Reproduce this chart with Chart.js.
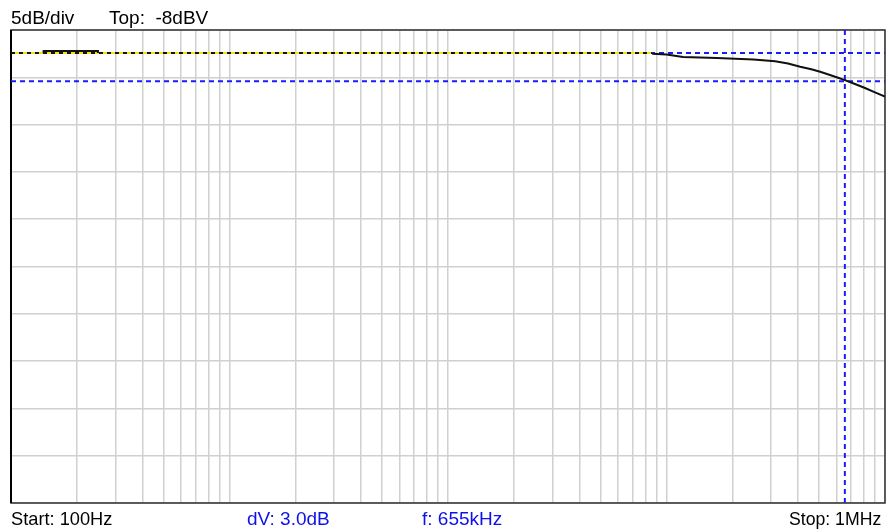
<!DOCTYPE html>
<html><head><meta charset="utf-8">
<script src="https://cdn.jsdelivr.net/npm/chart.js@4"></script>
<style>
html,body{margin:0;padding:0;background:#fff;}
#wrap{position:relative;width:888px;height:532px;overflow:hidden;}
#c{position:absolute;left:0;top:0;width:888px;height:532px;}
.t{position:absolute;font-family:"Liberation Sans",Arial,sans-serif;font-size:19px;line-height:19px;white-space:pre;color:#000;}
.b{color:#1010e8;}
</style></head><body>
<div id="wrap"><canvas id="c" width="888" height="532"></canvas>
<div class="t" style="left:11px;top:8px">5dB/div</div>
<div class="t" style="left:109px;top:8px">Top:  -8dBV</div>
<div class="t" style="left:11px;top:509px;transform:scaleX(0.96);transform-origin:left top">Start: 100Hz</div>
<div class="t b" style="left:247px;top:509px">dV: 3.0dB</div>
<div class="t b" style="left:422px;top:509px">f: 655kHz</div>
<div class="t" style="right:7px;top:509px;transform:scaleX(0.93);transform-origin:right top">Stop: 1MHz</div>
</div>
<script>
// ---- data ----
const decades = [100, 1000, 10000, 100000];
const stopFreq = 1000000;
const startFreq = 100;
const topLevel = -8;      // dBV
const dbPerDiv = 5;
const divisions = 10;

// reference (stored) trace, flat
const refFreq = [100, 86000];
const refLevel = [-10.43, -10.43];

// short measured segment at low frequency
const lowFreq = [141, 141, 250, 250];
const lowLevel = [-10.43, -10.22, -10.22, -10.43];

// measured roll-off trace
const traceFreq = [86000, 100000, 119000, 170000, 250000, 314000, 360000, 409000, 460000, 505000, 560000, 610000, 655000, 700000, 810000, 900000, 1000000];
const traceLevel = [-10.5, -10.6, -10.85, -10.97, -11.12, -11.3, -11.55, -11.88, -12.15, -12.42, -12.75, -13.05, -13.3, -13.55, -14.13, -14.6, -15.05];

// cursors
const cursorLevel1 = -10.43;
const cursorLevel2 = -13.43;
const cursorFreq = 655000;

const gridMult = [1,2,3,4,5,6,7,8,9];

// ---- build ----
const xy = (xs, ys) => xs.map((x, i) => ({x, y: ys[i]}));
const bottomLevel = topLevel - dbPerDiv * divisions;
const gridFreqs = [];
decades.forEach(d => gridMult.forEach(m => gridFreqs.push(d * m)));
gridFreqs.push(stopFreq);

const BLUE = '#1a1aff';
const common = {showLine: true, pointRadius: 0, tension: 0, fill: false, borderJoinStyle: 'miter'};

const borderPlugin = {
  id: 'frame',
  beforeDatasetsDraw(chart) {
    const {ctx, chartArea: a} = chart;
    ctx.save();
    ctx.strokeStyle = '#303030';
    ctx.lineWidth = 1.5;
    ctx.strokeRect(a.left, a.top, a.right - a.left, a.bottom - a.top);
    ctx.strokeStyle = '#000';
    ctx.lineWidth = 2;
    ctx.beginPath(); ctx.moveTo(a.left, a.top); ctx.lineTo(a.left, a.bottom); ctx.stroke();
    ctx.restore();
  }
};

new Chart(document.getElementById('c'), {
  type: 'scatter',
  data: {
    datasets: [
      Object.assign({data: xy(traceFreq, traceLevel), borderColor: '#111', borderWidth: 2, order: 0}, common),
      Object.assign({data: xy(lowFreq, lowLevel), borderColor: '#111', borderWidth: 2, order: 1}, common),
      Object.assign({data: xy(refFreq, refLevel), borderColor: '#111', borderWidth: 2, borderDash: [4, 4], order: 2}, common),
      Object.assign({data: xy(refFreq, refLevel), borderColor: '#f5e600', borderWidth: 2, order: 3}, common),
      Object.assign({data: xy([startFreq, stopFreq], [cursorLevel1, cursorLevel1]), borderColor: BLUE, borderWidth: 2, borderDash: [5, 4], order: 4}, common),
      Object.assign({data: xy([startFreq, stopFreq], [cursorLevel2, cursorLevel2]), borderColor: BLUE, borderWidth: 2, borderDash: [5, 4], order: 5}, common),
      Object.assign({data: xy([cursorFreq, cursorFreq], [topLevel, bottomLevel]), borderColor: BLUE, borderWidth: 2, borderDash: [5, 4], order: 6}, common)
    ]
  },
  options: {
    responsive: false,
    animation: false,
    devicePixelRatio: 1,
    layout: {padding: {left: 11, top: 30, right: 3, bottom: 29}},
    plugins: {legend: {display: false}, tooltip: {enabled: false}, title: {display: false}},
    scales: {
      x: {
        type: 'logarithmic', min: startFreq, max: stopFreq,
        afterBuildTicks: s => { s.ticks = gridFreqs.map(v => ({value: v})); },
        ticks: {display: false},
        grid: {color: '#d0d0d0', lineWidth: 1.5, drawTicks: false},
        border: {display: false}
      },
      y: {
        type: 'linear', min: bottomLevel, max: topLevel,
        ticks: {display: false, stepSize: dbPerDiv},
        grid: {color: '#d0d0d0', lineWidth: 1.5, drawTicks: false},
        border: {display: false}
      }
    }
  },
  plugins: [borderPlugin]
});
</script>
</body></html>
